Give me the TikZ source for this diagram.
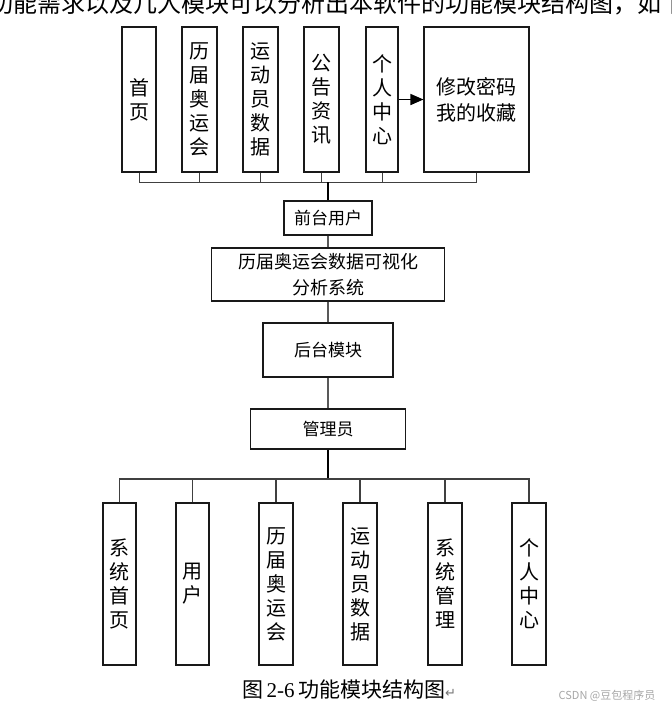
\documentclass[tikz,border=0pt]{standalone}
\usepackage{fontspec}
\setmainfont{Liberation Serif}
\newfontfamily\cjk{Noto Sans CJK SC}
\newfontfamily\symfont{DejaVu Sans}
\usetikzlibrary{arrows.meta}

\tikzset{
  modbox/.style={draw=black!90, line width=1.1pt, inner sep=0pt, align=center,
                 font=\cjk\fontsize{17}{24}\selectfont},
  tallbox/.style={modbox, minimum width=34pt, font=\cjk\fontsize{20}{24}\selectfont},
  thinlink/.style={draw=black!75, line width=0.9pt},
  trunk/.style={draw=black, line width=1.8pt},
  midlink/.style={draw=black!65, line width=1.5pt}
}

\begin{document}
\begin{tikzpicture}[x=1pt, y=-1pt]
    \clip (0,0) rectangle (672,713);

    %text of the page (cut at the top)
    \node[anchor=base west, inner sep=0pt, font=\cjk\fontsize{24}{24}\selectfont] (intro) at (-11,12)
        {功能需求以及几人模块可以分析出本软件的功能模块结构图，如下};

    %front modules
    \node[tallbox, minimum height=145pt] (shouye) at (139,99.5) {首\\页};
    \node[tallbox, minimum height=145pt, minimum width=35pt] (lijie) at (199.5,99.5) {历\\届\\奥\\运\\会};
    \node[tallbox, minimum height=145pt, minimum width=35pt] (yundong) at (260.5,99.5) {运\\动\\员\\数\\据};
    \node[tallbox, minimum height=145pt, minimum width=35pt] (gonggao) at (321.5,99.5) {公\\告\\资\\讯};
    \node[tallbox, minimum height=145pt, minimum width=32pt] (geren) at (382,99.5) {个\\人\\中\\心};
    \node[tallbox, minimum height=145pt, minimum width=105pt, font=\cjk\fontsize{20}{26}\selectfont] (xiugai) at (476.5,99.5) {修改密码\\我的收藏};
    \draw[line width=1.5pt, -{Triangle[length=13pt,width=11pt]}] (geren) -- (xiugai);

    %bus of the front modules
    \coordinate (topbus) at (328,182);
    \foreach \m in {shouye,lijie,yundong,gonggao,geren,xiugai}
        \draw[thinlink] (\m.south) |- (topbus);

    %middle column
    \node[modbox, minimum width=88pt, minimum height=34pt] (qiantai) at (328,218) {前台用户};
    \node[modbox, minimum width=233pt, minimum height=53pt, font=\cjk\fontsize{18}{26}\selectfont] (xitong) at (328,274.5) {历届奥运会数据可视化\\分析系统};
    \node[modbox, minimum width=130pt, minimum height=54pt] (houtai) at (328,350) {后台模块};
    \node[modbox, minimum width=155pt, minimum height=40pt] (guanli) at (328,429) {管理员};

    \draw[trunk] (topbus) -- (qiantai);
    \draw[midlink] (qiantai) -- (xitong);
    \draw[midlink] (xitong) -- (houtai);
    \draw[midlink] (houtai) -- (guanli);

    %admin modules
    \node[tallbox, minimum height=162pt, minimum width=33pt] (xtsy) at (119.5,584) {系\\统\\首\\页};
    \node[tallbox, minimum height=162pt, minimum width=33pt] (yonghu) at (192.5,584) {用\\户};
    \node[tallbox, minimum height=162pt] (aoyun) at (276,584) {历\\届\\奥\\运\\会};
    \node[tallbox, minimum height=162pt] (ydsj) at (360,584) {运\\动\\员\\数\\据};
    \node[tallbox, minimum height=162pt] (xtgl) at (445,584) {系\\统\\管\\理};
    \node[tallbox, minimum height=162pt] (grzx) at (529,584) {个\\人\\中\\心};

    %bus of the admin modules
    \coordinate (botbus) at (328,479);
    \draw[trunk] (guanli) -- (botbus);
    \foreach \m in {xtsy,yonghu,aoyun,ydsj,xtgl,grzx}
        \draw[thinlink, line width=1.3pt] (\m.north) |- (botbus);

    %caption
    \node[inner sep=0pt, font=\fontsize{21}{24}\selectfont] (caption) at (349,690)
        {{\cjk 图}\,2-6\,{\cjk 功能模块结构图}{\symfont\fontsize{13}{14}\selectfont\color{black!55}↵}};
    \node[inner sep=0pt, text=black!35, font=\cjk\fontsize{11}{12}\selectfont] (mark) at (607,696) {CSDN @豆包程序员};
\end{tikzpicture}
\end{document}
